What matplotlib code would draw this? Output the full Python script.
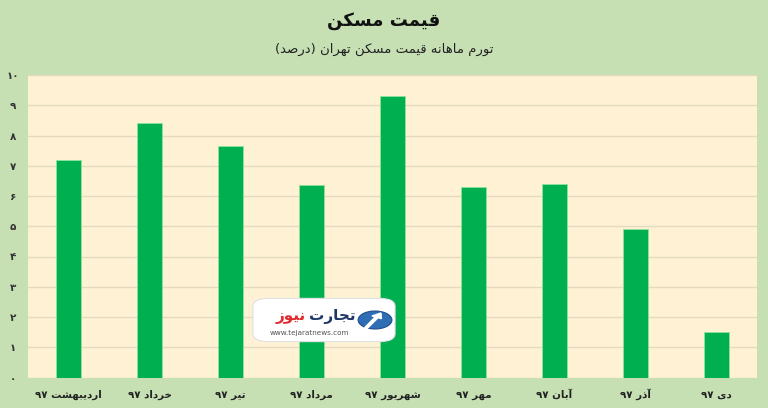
import re
import matplotlib
matplotlib.use("Agg")
import matplotlib.pyplot as plt
from matplotlib.patches import FancyBboxPatch, Circle, FancyArrow

# ---------------- data ----------------
categories = ["اردیبهشت ۹۷", "خرداد ۹۷", "تیر ۹۷", "مرداد ۹۷", "شهریور ۹۷",
              "مهر ۹۷", "آبان ۹۷", "آذر ۹۷", "دی ۹۷"]
values = [7.2, 8.4, 7.65, 6.35, 9.3, 6.3, 6.4, 4.9, 1.5]
ytick_values = [0, 1, 2, 3, 4, 5, 6, 7, 8, 9, 10]
ytick_labels = ["۰", "۱", "۲", "۳", "۴", "۵", "۶", "۷", "۸", "۹", "۱۰"]
title = "قیمت مسکن"
subtitle = "تورم ماهانه قیمت مسکن تهران (درصد)"
logo_word1 = "تجارت"
logo_word2 = "نیوز"
logo_url = "www.tejaratnews.com"

# ------------- minimal Arabic-script shaping for display -------------
FORMS = {
    'ا': ('\uFE8D', '\uFE8E', None, None),
    'آ': ('\uFE81', '\uFE82', None, None),
    'ب': ('\uFE8F', '\uFE90', '\uFE91', '\uFE92'),
    'ت': ('\uFE95', '\uFE96', '\uFE97', '\uFE98'),
    'ج': ('\uFE9D', '\uFE9E', '\uFE9F', '\uFEA0'),
    'خ': ('\uFEA5', '\uFEA6', '\uFEA7', '\uFEA8'),
    'د': ('\uFEA9', '\uFEAA', None, None),
    'ذ': ('\uFEAB', '\uFEAC', None, None),
    'ر': ('\uFEAD', '\uFEAE', None, None),
    'ز': ('\uFEAF', '\uFEB0', None, None),
    'س': ('\uFEB1', '\uFEB2', '\uFEB3', '\uFEB4'),
    'ش': ('\uFEB5', '\uFEB6', '\uFEB7', '\uFEB8'),
    'ص': ('\uFEB9', '\uFEBA', '\uFEBB', '\uFEBC'),
    'ق': ('\uFED5', '\uFED6', '\uFED7', '\uFED8'),
    'ک': ('\uFB8E', '\uFB8F', '\uFB90', '\uFB91'),
    'م': ('\uFEE1', '\uFEE2', '\uFEE3', '\uFEE4'),
    'ن': ('\uFEE5', '\uFEE6', '\uFEE7', '\uFEE8'),
    'ه': ('\uFEE9', '\uFEEA', '\uFEEB', '\uFEEC'),
    'و': ('\uFEED', '\uFEEE', None, None),
    'ی': ('\uFBFC', '\uFBFD', '\uFBFE', '\uFBFF'),
}


def shape(s):
    out = []
    n = len(s)
    for i, c in enumerate(s):
        if c not in FORMS:
            out.append(c)
            continue
        f = FORMS[c]
        prev = s[i - 1] if i > 0 else ''
        nxt = s[i + 1] if i < n - 1 else ''
        jp = prev in FORMS and FORMS[prev][2] is not None
        jn = f[2] is not None and nxt in FORMS
        if jp and jn:
            out.append(f[3])
        elif jp:
            out.append(f[1])
        elif jn:
            out.append(f[2])
        else:
            out.append(f[0])
    return ''.join(out)


def rtl(s):
    sh = shape(s)
    tokens = re.findall(r'[0-9\u06F0-\u06F9A-Za-z.]+|.', sh)
    tokens = tokens[::-1]
    mirror = {'(': ')', ')': '('}
    return ''.join(mirror.get(t, t) for t in tokens)


# ---------------- figure ----------------
W, H = 768, 408
BG = "#c6e0b4"
PLOT_BG = "#fff2d4"
BAR = "#00b050"
GRID = "#e4dac2"
FONT = ["DejaVu Sans"]

fig = plt.figure(figsize=(W / 100, H / 100), dpi=100, facecolor=BG)
ax = fig.add_axes([28 / W, (H - 377.5) / H, 729 / W, (377.5 - 75) / H])
ax.set_facecolor(PLOT_BG)

x = list(range(len(categories)))
ax.bar(x, values, width=0.32, color=BAR, edgecolor="#8fe39a", linewidth=0.6, zorder=3)

ax.set_xlim(-0.5, len(categories) - 0.5)
ax.set_ylim(0, 10)
ax.set_yticks(ytick_values)
ax.set_yticklabels(ytick_labels, fontsize=7.5, fontweight="bold", color="#333333",
                   family=FONT)
ax.set_xticks(x)
ax.set_xticklabels([rtl(c) for c in categories], fontsize=7.4, fontweight="bold",
                   color="#222222", family=FONT)
ax.tick_params(axis="both", length=0)
ax.tick_params(axis="y", pad=11)
ax.tick_params(axis="x", pad=14.6)
for lbl in ax.get_yticklabels():
    lbl.set_horizontalalignment("center")
for lbl in ax.get_xticklabels():
    lbl.set_verticalalignment("baseline")
ax.yaxis.grid(True, color=GRID, linewidth=1.0, zorder=0)
ax.set_axisbelow(True)
for sp in ax.spines.values():
    sp.set_visible(False)

# titles
fig.text(0.5, 1 - 21 / H, rtl(title), ha="center", va="center", fontsize=13,
         fontweight="bold", color="#111111", family=FONT)
fig.text(0.5, 1 - 49 / H, rtl(subtitle), ha="center", va="center", fontsize=9.5,
         color="#222222", family=FONT)

# watermark logo
box = FancyBboxPatch((256 / W, 1 - 340 / H), 136 / W, 40 / H,
                     boxstyle="round,pad=0.004,rounding_size=0.02",
                     transform=fig.transFigure, facecolor="white",
                     edgecolor="#e0e0e0", linewidth=0.8, zorder=10)
fig.patches.append(box)
circ = Circle((375 / W, 1 - 320 / H), 0.022, transform=fig.transFigure,
              facecolor="#2f6eb5", edgecolor="#1d4f8a", linewidth=0.8, zorder=11)
fig.patches.append(circ)
arr = FancyArrow(366 / W, 1 - 328 / H, 15 / W, 15 / H, width=0.004,
                 head_width=0.014, head_length=0.012, transform=fig.transFigure,
                 color="white", zorder=12, length_includes_head=True)
fig.patches.append(arr)
fig.text(356 / W, 1 - 316 / H, rtl(logo_word1), ha="right", va="center", fontsize=11,
         fontweight="bold", color="#1f3868", family=FONT, zorder=13)
fig.text(306 / W, 1 - 316 / H, rtl(logo_word2), ha="right", va="center", fontsize=11,
         fontweight="bold", color="#e12b2f", family=FONT, zorder=13)
fig.text(309 / W, 1 - 333 / H, logo_url, ha="center", va="center", fontsize=5.2,
         color="#555555", family=FONT, zorder=13)

fig.savefig("out.png", dpi=100, facecolor=BG)
